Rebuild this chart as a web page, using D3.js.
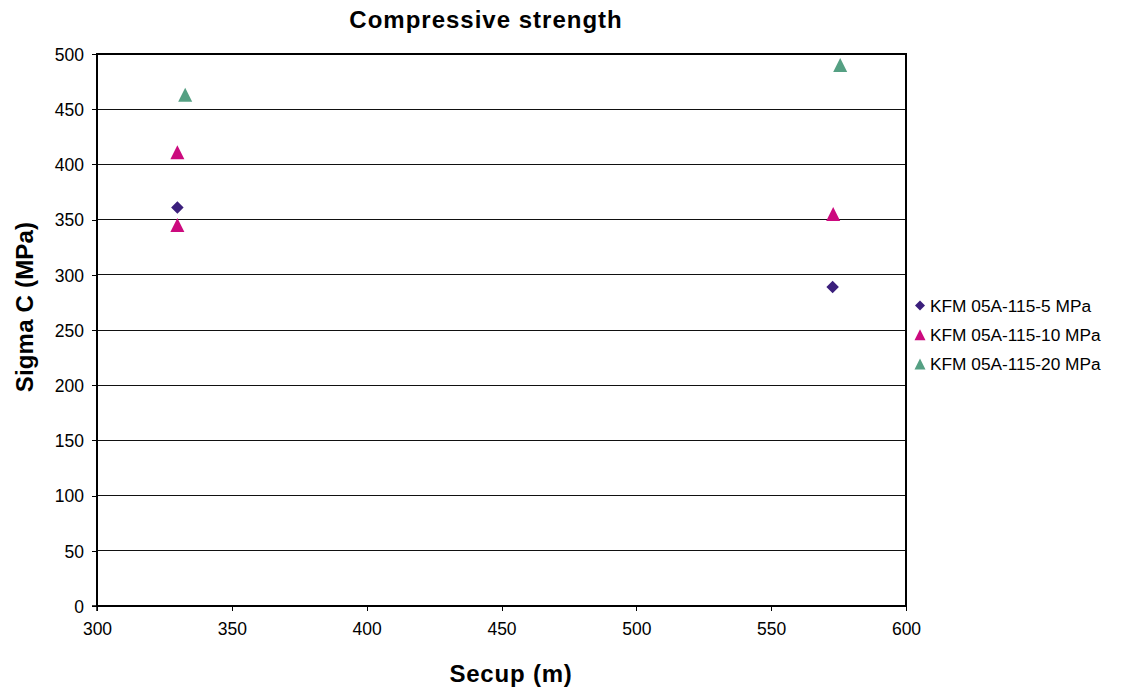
<!DOCTYPE html>
<html><head><meta charset="utf-8">
<script src="https://cdn.jsdelivr.net/npm/d3@7"></script>
<style>body{margin:0;background:#fff}svg{display:block}text{font-family:"Liberation Sans",Arial,sans-serif}</style>
</head><body><svg id="c" width="1121" height="691"></svg>
<script>
const seriesNames = ["KFM 05A-115-5 MPa", "KFM 05A-115-10 MPa", "KFM 05A-115-20 MPa"];
const seriesColors = ["#3b1f7c", "#cc0a7e", "#55a083"];
const seriesShapes = ["diamond", "triangle", "triangle"];
const s5x = [329.8, 572.8];
const s5y = [361, 289];
const s10x = [329.8, 329.8, 573];
const s10y = [411, 345, 355];
const s20x = [332.7, 575.6];
const s20y = [463, 490];
const xTicks = [300, 350, 400, 450, 500, 550, 600];
const yTicks = [0, 50, 100, 150, 200, 250, 300, 350, 400, 450, 500];

const seriesX = [s5x, s10x, s20x];
const seriesY = [s5y, s10y, s20y];

const svg = d3.select("#c");
const L = 97, R = 906, T = 54, B = 606;
const x = d3.scaleLinear().domain([300, 600]).range([L, R]);
const y = d3.scaleLinear().domain([0, 500]).range([B, T]);

// grid
svg.append("g").selectAll("line").data(yTicks).join("line")
  .attr("x1", L).attr("x2", R).attr("y1", d => y(d)).attr("y2", d => y(d))
  .attr("stroke", "#111").attr("stroke-width", 1).attr("shape-rendering", "crispEdges");

// border
svg.append("rect").attr("x", L).attr("y", T).attr("width", R - L).attr("height", B - T)
  .attr("fill", "none").attr("stroke", "#000").attr("stroke-width", 1.5).attr("shape-rendering", "crispEdges");

// axes
const yAxis = svg.append("g").attr("transform", `translate(${L},0)`)
  .call(d3.axisLeft(y).tickValues(yTicks).tickSize(5).tickPadding(8));
const xAxis = svg.append("g").attr("transform", `translate(0,${B})`)
  .call(d3.axisBottom(x).tickValues(xTicks).tickSize(5).tickPadding(12));
[yAxis, xAxis].forEach(a => {
  a.select(".domain").remove();
  a.selectAll("line").attr("stroke", "#000").attr("shape-rendering", "crispEdges");
  a.selectAll("text").attr("font-size", 17.5).attr("fill", "#000")
    .attr("font-family", '"Liberation Sans",Arial,sans-serif');
});
yAxis.selectAll("text").attr("dy", "0.36em");
svg.append("line").attr("x1", L).attr("x2", L).attr("y1", T).attr("y2", B + 5).attr("stroke", "#000").attr("stroke-width", 1.5);
svg.append("line").attr("x1", L - 5).attr("x2", R).attr("y1", B).attr("y2", B).attr("stroke", "#000").attr("stroke-width", 1.5);

function shapePath(shape, w) {
  const h = w / 2;
  if (shape === "diamond") return `M0,${-h}L${h},0L0,${h}L${-h},0Z`;
  return `M0,${-h}L${h},${h}L${-h},${h}Z`;
}

// points
seriesNames.forEach((name, i) => {
  const pts = seriesX[i].map((v, j) => [v, seriesY[i][j]]);
  const isT = seriesShapes[i] === "triangle";
  svg.append("g").selectAll("path").data(pts).join("path")
    .attr("d", shapePath(seriesShapes[i], isT ? 14 : 12.5))
    .attr("transform", d => `translate(${x(d[0])},${y(d[1])})`)
    .attr("fill", seriesColors[i]);
});

// legend
const lg = svg.append("g");
seriesNames.forEach((name, i) => {
  const yy = 305.5 + i * 29.3;
  const isT = seriesShapes[i] === "triangle";
  lg.append("path").attr("d", shapePath(seriesShapes[i], isT ? 11 : 10))
    .attr("transform", `translate(920,${yy})`).attr("fill", seriesColors[i]);
  lg.append("text").attr("x", 930).attr("y", yy + 6).attr("font-size", 17.3).attr("fill", "#000").text(name);
});

// titles
svg.append("text").attr("x", 486).attr("y", 28).attr("text-anchor", "middle")
  .attr("font-size", 24).attr("font-weight", "bold").attr("letter-spacing", 1).text("Compressive strength");
svg.append("text").attr("x", 511).attr("y", 682).attr("text-anchor", "middle")
  .attr("font-size", 24).attr("font-weight", "bold").attr("letter-spacing", 0.8).text("Secup (m)");
svg.append("text").attr("transform", "translate(33,307) rotate(-90)").attr("text-anchor", "middle")
  .attr("font-size", 24).attr("font-weight", "bold").attr("letter-spacing", 0.2).text("Sigma C (MPa)");
</script></body></html>
